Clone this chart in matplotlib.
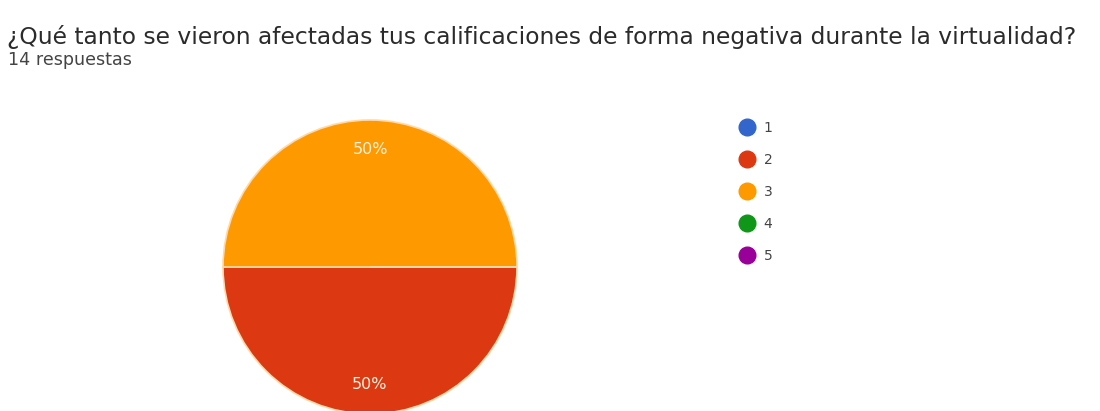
import matplotlib.pyplot as plt
from matplotlib.lines import Line2D

plt.rcParams['font.family'] = ['DejaVu Sans']

title = '¿Qué tanto se vieron afectadas tus calificaciones de forma negativa durante la virtualidad?'
subtitle = '14 respuestas'
labels = ['1', '2', '3', '4', '5']
values = [0, 7, 7, 0, 0]
colors = ['#3366cc', '#dc3912', '#ff9900', '#109618', '#990099']


def pct(p):
    return '%d%%' % round(p) if p > 0 else ''


fig = plt.figure(figsize=(11, 4.11), dpi=100)
fig.text(7 / 1100, 1 - 37 / 411, title, fontsize=16.8, color='#2b2b2b', va='center', ha='left')
fig.text(8 / 1100, 1 - 60 / 411, subtitle, fontsize=12.6, color='#444444', va='center', ha='left')

# pie placed by pixels: centre (370, 267), radius 147
ax = fig.add_axes([223 / 1100, (411 - 414) / 411, 294 / 1100, 294 / 411])
wedges, texts, autotexts = ax.pie(values, colors=colors, startangle=0, counterclock=False,
                                  autopct=pct, pctdistance=0.8, radius=1,
                                  wedgeprops=dict(edgecolor='#ffd9a8', linewidth=1.2),
                                  textprops=dict(color='#fff3e0', fontsize=11.5))
ax.set_xlim(-1, 1)
ax.set_ylim(-1, 1)
ax.set_aspect('equal')
ax.axis('off')

handles = [Line2D([], [], marker='o', linestyle='', markersize=12, color=c) for c in colors]
leg = fig.legend(handles, labels, loc='upper left', bbox_to_anchor=(733 / 1100, 1 - 115 / 411),
                 frameon=False, fontsize=10, labelspacing=1.3, handletextpad=0.6,
                 handlelength=1.2, labelcolor='#444444', borderaxespad=0)

fig.savefig('out.png', dpi=100)
